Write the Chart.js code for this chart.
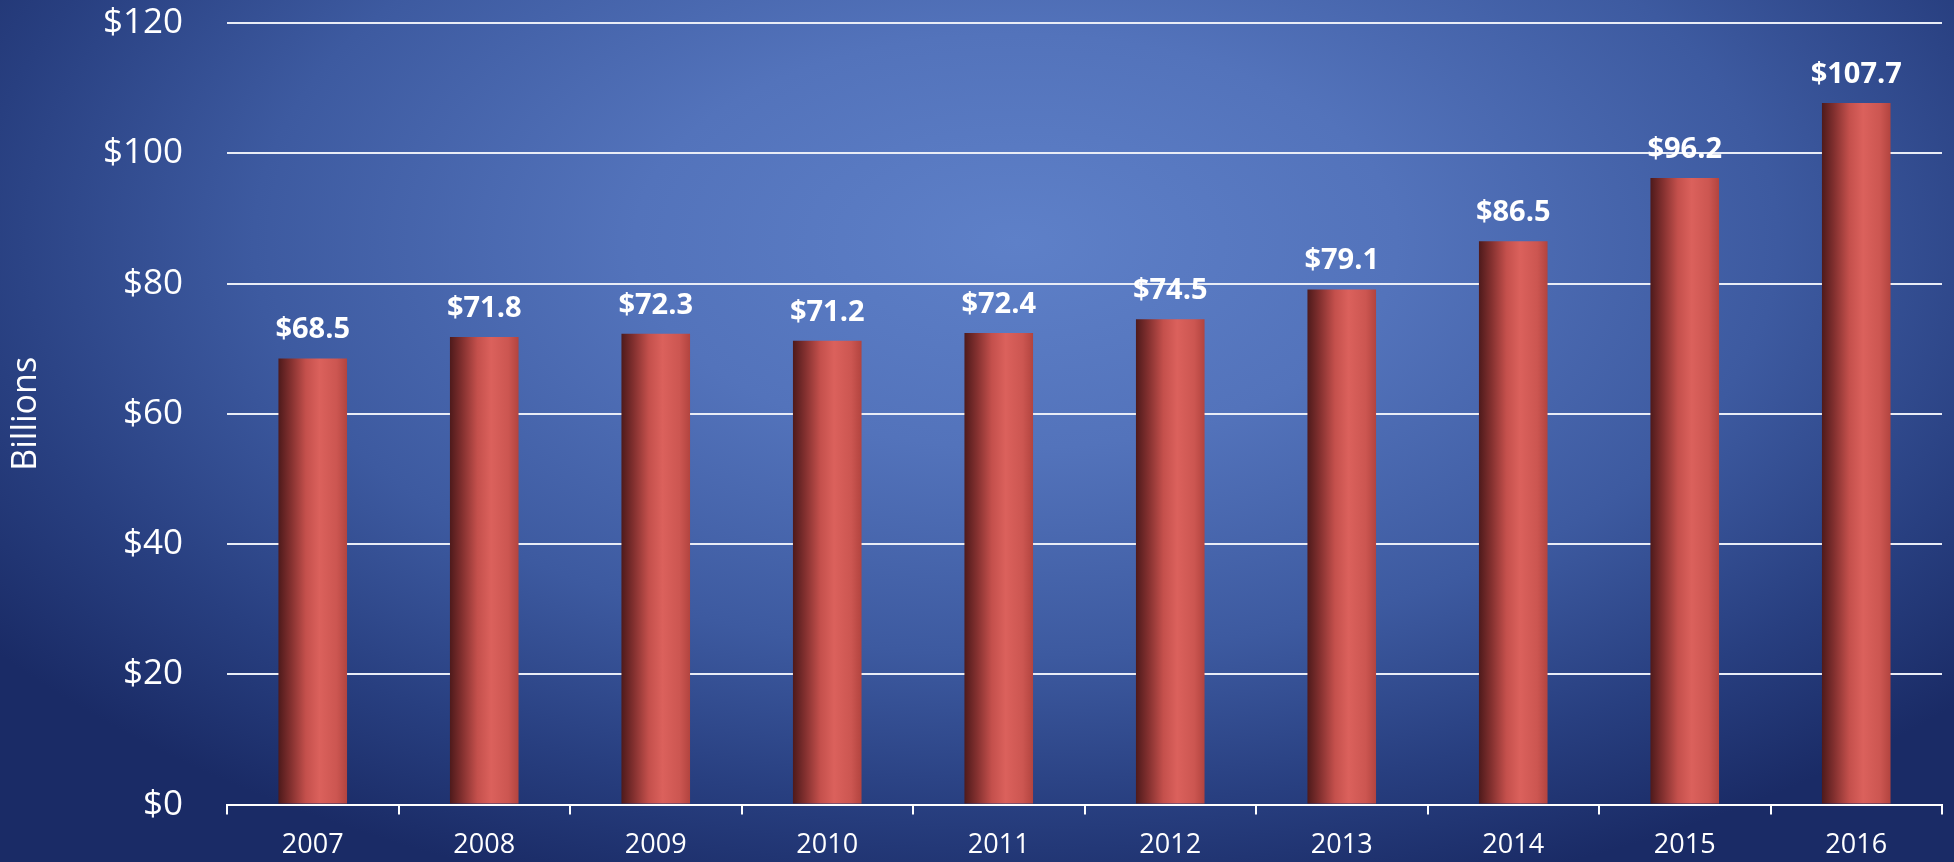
<!DOCTYPE html>
<html lang="en">
<head>
    <meta charset="UTF-8">
    <title>Billions</title>
    <style>
        html, body { margin: 0; padding: 0; }
        body {
            width: 1954px;
            height: 862px;
            overflow: hidden;
            background: radial-gradient(ellipse 65% 80% at 52% 28%, #5e80c8 0%, #5373bb 30%, #3d5aa0 60%, #283f80 82%, #1a2b66 100%);
        }
        .wrap { position: relative; width: 1954px; height: 862px; }
    </style>
</head>
<body>
    <div class="wrap">
        <canvas id="myChart"></canvas>
    </div>

    <script src="https://cdn.jsdelivr.net/npm/chart.js"></script>
    <script>
        var years = ['2007', '2008', '2009', '2010', '2011', '2012', '2013', '2014', '2015', '2016'];
        var spending = [68.5, 71.8, 72.3, 71.2, 72.4, 74.5, 79.1, 86.5, 96.2, 107.7];
        var yTicks = [0, 20, 40, 60, 80, 100, 120];

        var FONT = "'Open Sans', 'Noto Sans', sans-serif";
        var BAR_PCT = 0.4;

        // cylinder look: dark left edge, bright just right of centre
        function barFill(context) {
            var chart = context.chart;
            var xs = chart.scales.x;
            if (!xs || !chart.chartArea) return '#c9544f';
            var cx = xs.getPixelForValue(context.dataIndex);
            var w = (chart.chartArea.right - chart.chartArea.left) / years.length * BAR_PCT;
            var g = chart.ctx.createLinearGradient(cx - w / 2, 0, cx + w / 2, 0);
            g.addColorStop(0, '#4e1a1b');
            g.addColorStop(0.18, '#83302f');
            g.addColorStop(0.4, '#c4504c');
            g.addColorStop(0.6, '#db615c');
            g.addColorStop(0.85, '#cc5651');
            g.addColorStop(1, '#b2443f');
            return g;
        }

        var valueLabels = {
            id: 'valueLabels',
            afterDatasetsDraw: function(chart) {
                var ctx = chart.ctx;
                var meta = chart.getDatasetMeta(0);
                ctx.save();
                ctx.fillStyle = '#ffffff';
                ctx.font = "bold 29px " + FONT;
                ctx.textAlign = 'center';
                ctx.textBaseline = 'alphabetic';
                meta.data.forEach(function(bar, i) {
                    ctx.fillText('$' + spending[i].toFixed(1), bar.x, bar.y - 20);
                });
                ctx.restore();
            }
        };

        const ctx = document.getElementById('myChart');
        new Chart(ctx, {
            type: 'bar',
            data: {
                labels: years,
                datasets: [{
                    data: spending,
                    backgroundColor: barFill,
                    borderWidth: 0,
                    categoryPercentage: 1,
                    barPercentage: BAR_PCT
                }]
            },
            plugins: [valueLabels],
            options: {
                responsive: true,
                maintainAspectRatio: false,
                animation: false,
                layout: { padding: { left: 6, right: 12, top: 23, bottom: -15 } },
                plugins: {
                    legend: { display: false },
                    tooltip: { enabled: false }
                },
                scales: {
                    x: {
                        grid: {
                            drawOnChartArea: false,
                            drawTicks: true,
                            tickLength: 10,
                            color: '#ffffff',
                            lineWidth: 2
                        },
                        border: { display: true, color: '#ffffff', width: 2 },
                        ticks: {
                            color: '#ffffff',
                            font: { family: FONT, size: 27 },
                            padding: 15
                        }
                    },
                    y: {
                        min: 0,
                        max: 120,
                        afterBuildTicks: function(scale) {
                            scale.ticks = yTicks.map(function(v) { return { value: v }; });
                        },
                        afterFit: function(scale) {
                            scale.width = 221;
                            scale.paddingTop = 0;
                            scale.paddingBottom = 0;
                        },
                        grid: {
                            drawTicks: false,
                            color: function(c) { return c.tick && c.tick.value === 0 ? 'rgba(0,0,0,0)' : '#e8ecf6'; },
                            lineWidth: 2
                        },
                        border: { display: false },
                        ticks: {
                            color: '#ffffff',
                            font: { family: FONT, size: 35 },
                            padding: 44,
                            callback: function(v) { return '$' + v; }
                        },
                        title: {
                            display: true,
                            text: 'Billions',
                            color: '#ffffff',
                            font: { family: FONT, size: 34 },
                            padding: { top: 0, bottom: 0 }
                        }
                    }
                }
            }
        });
    </script>
</body>
</html>
